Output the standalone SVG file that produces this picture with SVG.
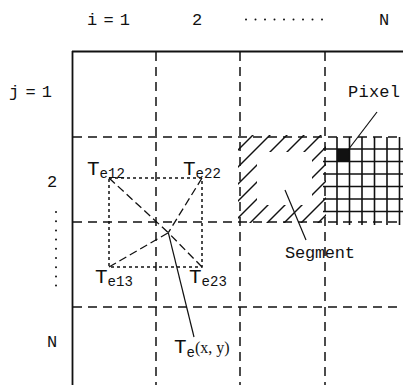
<svg xmlns="http://www.w3.org/2000/svg" width="403" height="385" viewBox="0 0 403 385">
<style>
  text { font-family: "Liberation Mono", "DejaVu Sans Mono", monospace; fill: #111; }
  .lbl { font-size: 17px; }
  .big { font-size: 21px; }
  .sub { font-size: 14px; }
  .paren { font-family: "Liberation Serif", serif; font-size: 16px; }
  .frame { stroke: #111; stroke-width: 1.8; fill: none; }
  .dash { stroke: #111; stroke-width: 1.5; stroke-dasharray: 9 6; fill: none; }
  .dot { stroke: #111; stroke-width: 1.5; stroke-dasharray: 3 3; fill: none; }
  .diag { stroke: #111; stroke-width: 1.3; stroke-dasharray: 8 4; fill: none; }
  .solid { stroke: #111; stroke-width: 1.2; fill: none; }
  .grid { stroke: #111; stroke-width: 1.6; fill: none; }
  .hatch { stroke: #111; stroke-width: 1.4; }
</style>
<defs>
  <clipPath id="frameClip">
    <path clip-rule="evenodd" d="M238,135 H326 V223 H238 Z M257,152 H312 V205 H257 Z"/>
  </clipPath>
</defs>
<rect width="403" height="385" fill="#fff"/>

<g id="axis-labels">
  <text class="lbl" x="87" y="25" textLength="43" lengthAdjust="spacing">i = 1</text>
  <text class="lbl" x="197" y="25" text-anchor="middle">2</text>
  <g fill="#111">
    <circle cx="246" cy="19.5" r="1"/><circle cx="255.5" cy="19.5" r="1"/><circle cx="265" cy="19.5" r="1"/>
    <circle cx="274.5" cy="19.5" r="1"/><circle cx="284" cy="19.5" r="1"/><circle cx="293.5" cy="19.5" r="1"/>
    <circle cx="303" cy="19.5" r="1"/><circle cx="312.5" cy="19.5" r="1"/><circle cx="322" cy="19.5" r="1"/>
  </g>
  <text class="lbl" x="384" y="25" text-anchor="middle">N</text>
  <text class="lbl" x="9" y="97" textLength="43" lengthAdjust="spacing">j = 1</text>
  <text class="lbl" x="52" y="187" text-anchor="middle">2</text>
  <g fill="#111">
    <circle cx="56" cy="212" r="1"/><circle cx="56" cy="221.2" r="1"/><circle cx="56" cy="230.4" r="1"/>
    <circle cx="56" cy="239.6" r="1"/><circle cx="56" cy="248.8" r="1"/><circle cx="56" cy="258" r="1"/>
    <circle cx="56" cy="267.2" r="1"/><circle cx="56" cy="276.4" r="1"/><circle cx="56" cy="285.6" r="1"/>
  </g>
  <text class="lbl" x="52" y="347" text-anchor="middle">N</text>
</g>

<g id="grid">
  <line class="frame" x1="72" y1="51.5" x2="403" y2="51.5"/>
  <line class="frame" x1="72.5" y1="51" x2="72.5" y2="385"/>
  <line class="dash" x1="156" y1="52" x2="156" y2="385"/>
  <line class="dash" x1="240" y1="52" x2="240" y2="385"/>
  <line class="dash" x1="325" y1="52" x2="325" y2="385"/>
  <line class="dash" x1="73" y1="137" x2="403" y2="137"/>
  <line class="dash" x1="73" y1="222" x2="403" y2="222"/>
  <line class="dash" x1="73" y1="307" x2="403" y2="307"/>
</g>

<g id="segment">
  <g clip-path="url(#frameClip)" class="hatch">
    <line x1="230" y1="158" x2="258" y2="130"/>
    <line x1="230" y1="175" x2="275" y2="130"/>
    <line x1="230" y1="192" x2="292" y2="130"/>
    <line x1="230" y1="209" x2="309" y2="130"/>
    <line x1="230" y1="226" x2="326" y2="130"/>
    <line x1="238" y1="235" x2="343" y2="130"/>
    <line x1="255" y1="235" x2="346" y2="144"/>
    <line x1="272" y1="235" x2="346" y2="161"/>
    <line x1="289" y1="235" x2="346" y2="178"/>
    <line x1="306" y1="235" x2="346" y2="195"/>
    <line x1="323" y1="235" x2="346" y2="212"/>
  </g>
  <line class="solid" x1="285" y1="190" x2="306" y2="240"/>
  <text class="lbl" x="285" y="258" textLength="70" lengthAdjust="spacing">Segment</text>
</g>

<g id="pixels">
  <rect x="337" y="149" width="12.5" height="12.5" fill="#111"/>
  <g class="grid">
    <line x1="323" y1="149" x2="403" y2="149"/>
    <line x1="323" y1="161.5" x2="403" y2="161.5"/>
    <line x1="323" y1="174" x2="403" y2="174"/>
    <line x1="323" y1="186.5" x2="403" y2="186.5"/>
    <line x1="323" y1="199" x2="403" y2="199"/>
    <line x1="323" y1="211.5" x2="403" y2="211.5"/>
    <line x1="337" y1="137" x2="337" y2="225"/>
    <line x1="349.5" y1="137" x2="349.5" y2="225"/>
    <line x1="362" y1="137" x2="362" y2="225"/>
    <line x1="374.5" y1="137" x2="374.5" y2="225"/>
    <line x1="387" y1="137" x2="387" y2="225"/>
    <line x1="399.5" y1="137" x2="399.5" y2="225"/>
  </g>
  <line class="solid" x1="377" y1="112" x2="348" y2="150"/>
  <text class="lbl" x="348" y="97" textLength="52" lengthAdjust="spacing">Pixel</text>
</g>

<g id="interpolation">
  <rect class="dot" x="109" y="178" width="93" height="89"/>
  <line class="diag" x1="109" y1="178" x2="168.3" y2="232.7"/>
  <line class="diag" x1="202" y1="178" x2="168.3" y2="232.7"/>
  <line class="diag" x1="109" y1="267" x2="168.3" y2="232.7"/>
  <line class="diag" x1="202" y1="267" x2="168.3" y2="232.7"/>
  <line class="solid" x1="168.3" y1="232.7" x2="194" y2="337"/>
  <text x="87" y="175"><tspan class="big">T</tspan><tspan class="sub" dy="3">e12</tspan></text>
  <text x="183" y="175"><tspan class="big">T</tspan><tspan class="sub" dy="3">e22</tspan></text>
  <text x="95" y="283"><tspan class="big">T</tspan><tspan class="sub" dy="3">e13</tspan></text>
  <text x="189" y="283"><tspan class="big">T</tspan><tspan class="sub" dy="3">e23</tspan></text>
  <text x="174" y="353"><tspan class="big">T</tspan><tspan class="sub" dy="4">e</tspan><tspan class="paren" dy="-4">(x, y)</tspan></text>
</g>
</svg>
